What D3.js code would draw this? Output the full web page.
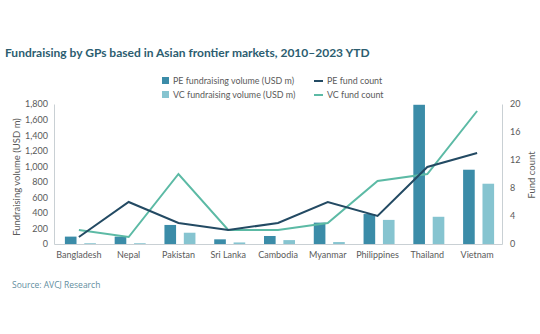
<!DOCTYPE html>
<html><head><meta charset="utf-8">
<script src="https://cdn.jsdelivr.net/npm/d3@7"></script>
<style>body{margin:0;background:#fff}svg{display:block}</style>
</head><body>
<svg id="c" width="540" height="334"></svg>
<script>
const categories = ["Bangladesh","Nepal","Pakistan","Sri Lanka","Cambodia","Myanmar","Philippines","Thailand","Vietnam"];
const peVolume = [95, 95, 245, 60, 103, 275, 385, 1790, 955];
const vcVolume = [10, 10, 145, 20, 50, 25, 310, 350, 775];
const peCount = [1, 6, 3, 2, 3, 6, 4, 11, 13];
const vcCount = [2, 1, 10, 2, 2, 3, 9, 10, 19];
const leftTicks = [0,200,400,600,800,1000,1200,1400,1600,1800];
const rightTicks = [0,4,8,12,16,20];

const svg = d3.select("#c");
const font = "Lato, 'Open Sans', sans-serif";
const C = {pe:"#3b8ca8", vc:"#86c4d0", peL:"#234a63", vcL:"#5cbaa5", axis:"#c9d0d4", text:"#5a5a5a"};

const x = d3.scaleBand().domain(categories).range([54,502]);
const yL = d3.scaleLinear().domain([0,1800]).range([244,104]);
const yR = d3.scaleLinear().domain([0,20]).range([244,104]);
const sub = d3.scaleBand().domain(["pe","vc"]).range([0,31]).paddingInner(0.4);

// title
svg.append("text").attr("x",5).attr("y",57).attr("font-family","Lato, sans-serif").attr("font-weight","bold")
  .attr("font-size",12).attr("fill","#2c5d70").text("Fundraising by GPs based in Asian frontier markets, 2010–2023 YTD");

// bars
const g = svg.append("g");
categories.forEach((c,i)=>{
  const x0 = x(c) + x.bandwidth()/2 - 14;
  g.append("rect").attr("x",x0+sub("pe")).attr("width",sub.bandwidth()).attr("y",yL(peVolume[i])).attr("height",yL(0)-yL(peVolume[i])).attr("fill",C.pe);
  g.append("rect").attr("x",x0+sub("vc")).attr("width",sub.bandwidth()).attr("y",yL(vcVolume[i])).attr("height",yL(0)-yL(vcVolume[i])).attr("fill",C.vc);
});

// axes
const axL = svg.append("g").attr("transform","translate(54,0)").call(d3.axisLeft(yL).tickValues(leftTicks).tickSize(0).tickPadding(6).tickFormat(d3.format(",")));
const axR = svg.append("g").attr("transform","translate(502,0)").call(d3.axisRight(yR).tickValues(rightTicks).tickSize(0).tickPadding(8));
const axB = svg.append("g").attr("transform","translate(0,244)").call(d3.axisBottom(x).tickSize(0).tickPadding(8));
[axL,axR,axB].forEach(a=>{
  a.select(".domain").attr("stroke",C.axis).attr("stroke-width",1);
  a.selectAll("text").attr("font-family",font).attr("font-size",9).attr("fill",C.text);
});

// lines
const line = (s)=>d3.line().x((d,i)=>x(categories[i])+x.bandwidth()/2).y(d=>yR(d))(s);
svg.append("path").attr("d",line(vcCount)).attr("fill","none").attr("stroke",C.vcL).attr("stroke-width",2);
svg.append("path").attr("d",line(peCount)).attr("fill","none").attr("stroke",C.peL).attr("stroke-width",2);

// axis titles
svg.append("text").attr("transform","translate(20,177) rotate(-90)").attr("text-anchor","middle")
  .attr("font-family",font).attr("font-size",9.5).attr("fill",C.text).text("Fundraising volume (USD m)");
svg.append("text").attr("transform","translate(535,175) rotate(-90)").attr("text-anchor","middle")
  .attr("font-family",font).attr("font-size",9.5).attr("fill",C.text).text("Fund count");

// legend
const lg = svg.append("g").attr("font-family",font).attr("font-size",8.9).attr("fill",C.text);
lg.append("rect").attr("x",162).attr("y",77).attr("width",7).attr("height",7).attr("fill",C.pe);
lg.append("text").attr("x",173).attr("y",84).text("PE fundraising volume (USD m)");
lg.append("rect").attr("x",162).attr("y",91).attr("width",7).attr("height",7).attr("fill",C.vc);
lg.append("text").attr("x",173).attr("y",98).text("VC fundraising volume (USD m)");
lg.append("line").attr("x1",314).attr("x2",323).attr("y1",81).attr("y2",81).attr("stroke",C.peL).attr("stroke-width",2);
lg.append("text").attr("x",327).attr("y",84).text("PE fund count");
lg.append("line").attr("x1",314).attr("x2",323).attr("y1",95).attr("y2",95).attr("stroke",C.vcL).attr("stroke-width",2);
lg.append("text").attr("x",327).attr("y",98).text("VC fund count");

// source
svg.append("text").attr("x",12).attr("y",288).attr("font-family","'Open Sans', sans-serif").attr("font-size",8.5).attr("fill","#5f8ea0").text("Source: AVCJ Research");
</script>
</body></html>
